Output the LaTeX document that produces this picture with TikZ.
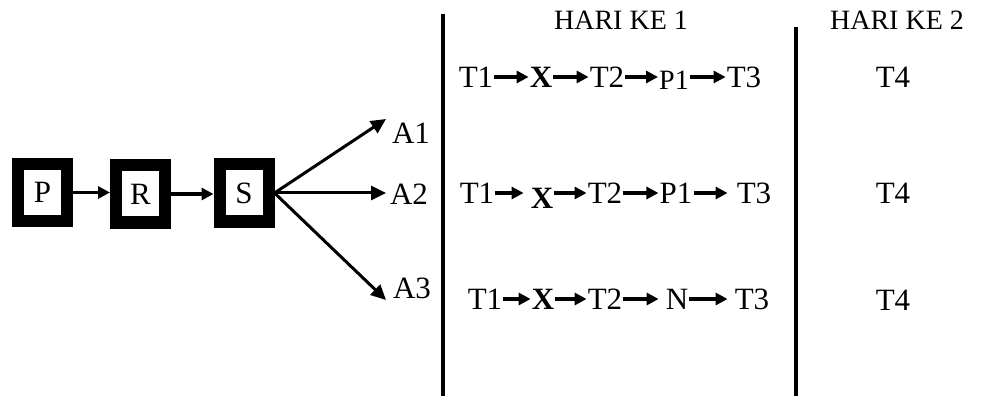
\documentclass[tikz,border=0pt]{standalone}
\usepackage{fontspec}
\setmainfont{Liberation Serif}
\usetikzlibrary{arrows.meta, positioning}

\begin{document}
\begin{tikzpicture}[
    x=1pt, y=-1pt,
    font=\fontsize{31}{34}\selectfont,
    blok/.style={
        draw=black,
        line width=12pt,
        minimum width=49pt,
        minimum height=57pt,
        inner sep=0pt
    },
    item/.style={
        inner sep=1pt,
        anchor=center
    },
    header/.style={
        item,
        font=\fontsize{28}{30}\selectfont
    },
    big/.style={
        -{Triangle[length=15pt,width=14pt]},
        line width=3pt
    },
    small/.style={
        -{Triangle[length=12pt,width=12pt]},
        line width=3.4pt
    },
    divider/.style={
        line width=4pt
    }
]
\useasboundingbox (0,0) rectangle (981,403);

% --- BLOCKS ---------------------------------------------------

\node[blok] (P) at (42.5,192.5) {P};
\node[blok] (R) at (140.5,194) {R};
\node[blok] (S) at (244,193) {S};

\draw[small] (P.east) -- (R.west |- P.east);
\draw[small] (R.east) -- (S.west |- R.east);

% --- BRANCHES -------------------------------------------------

\coordinate (tip1) at (386,119);
\coordinate (tip2) at (386,193);
\coordinate (tip3) at (386,300);

\node[item] (A1) at (411,133) {A1};
\node[item] (A2) at (409,194) {A2};
\node[item] (A3) at (412,288) {A3};

\draw[big] (S.east) -- (tip1);
\draw[big] (S.east) -- (tip2);
\draw[big] (S.east) -- (tip3);

% --- DIVIDERS AND HEADERS -------------------------------------

\coordinate (top1) at (443,14);
\coordinate (bot1) at (443,396);
\coordinate (top2) at (796,27);
\coordinate (bot2) at (796,396);
\draw[divider] (top1) -- (bot1);
\draw[divider] (top2) -- (bot2);

\node[header] (hari1) at (621,20) {HARI KE 1};
\node[header] (hari2) at (897,20) {HARI KE 2};

% --- ROW A1 ---------------------------------------------------

\node[item] (a1t1) at (476,77) {T1};
\node[item] (a1x) at (541,77) {\textbf{X}};
\node[item] (a1t2) at (607,77) {T2};
\node[item, font=\fontsize{28}{30}\selectfont] (a1p1) at (674,80) {P1};
\node[item] (a1t3) at (744,77) {T3};

\draw[small] (a1t1.east) -- (a1t1.east -| a1x.west);
\draw[small] (a1x.east) -- (a1x.east -| a1t2.west);
\draw[small] (a1t2.east) -- (a1t2.east -| a1p1.west);
\draw[small] (a1p1.east |- a1t3.east) -- (a1t3.west);

% --- ROW A2 ---------------------------------------------------

\node[item] (a2t1) at (477,193) {T1};
\node[item] (a2x) at (542,198) {\textbf{X}};
\node[item] (a2t2) at (605,193) {T2};
\node[item] (a2p1) at (676,193) {P1};
\node[item] (a2t3) at (754,193) {T3};

\draw[small] (a2t1.east) -- ([xshift=-6pt]a2t1.east -| a2x.west);
\draw[small] (a2x.east |- a2t1.east) -- (a2t2.west);
\draw[small] (a2t2.east) -- (a2p1.west);
\draw[small] (a2p1.east) -- ([xshift=-8pt]a2t3.west);

% --- ROW A3 ---------------------------------------------------

\node[item] (a3t1) at (485,299) {T1};
\node[item] (a3x) at (543,299) {\textbf{X}};
\node[item] (a3t2) at (605,299) {T2};
\node[item] (a3n) at (677,299) {N};
\node[item] (a3t3) at (752,299) {T3};

\draw[small] (a3t1.east) -- (a3x.west);
\draw[small] (a3x.east) -- (a3t2.west);
\draw[small] (a3t2.east) -- ([xshift=-6pt]a3n.west);
\draw[small] (a3n.east) -- ([xshift=-6pt]a3t3.west);

% --- HARI KE 2 ------------------------------------------------

\node[item] (b1) at (893,77) {T4};
\node[item] (b2) at (893,193) {T4};
\node[item] (b3) at (893,300) {T4};

\end{tikzpicture}
\end{document}
